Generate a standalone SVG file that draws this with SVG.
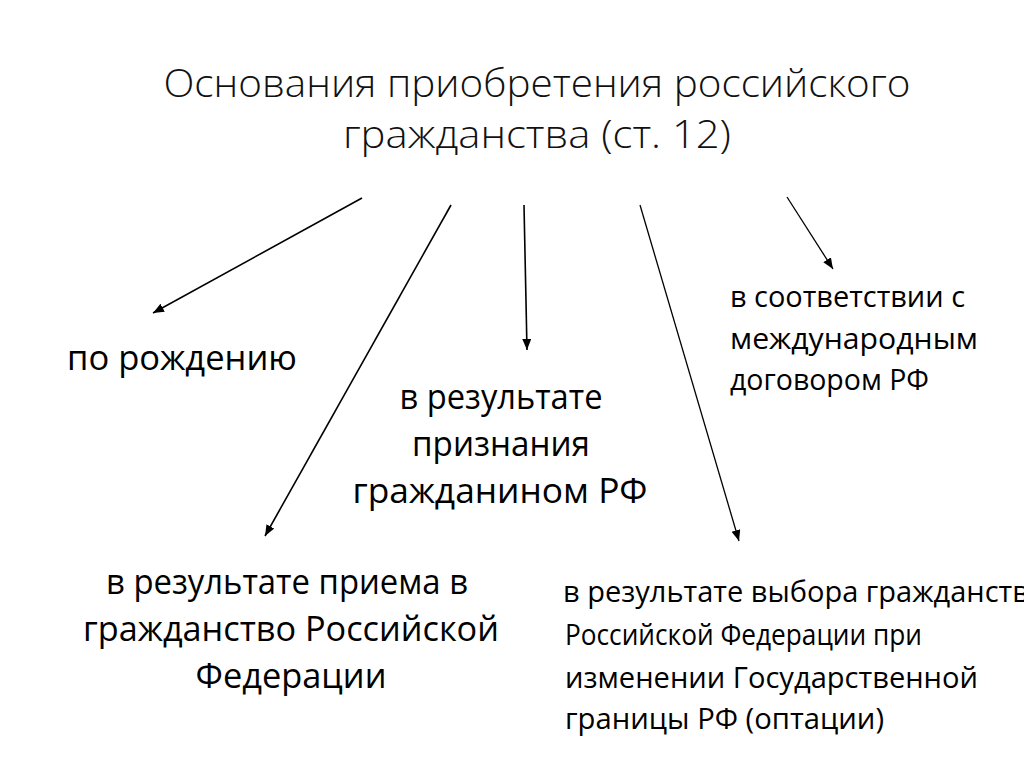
<svg xmlns="http://www.w3.org/2000/svg" width="1024" height="767" viewBox="0 0 1024 767">
<style>
.t{font-family:"Open Sans","Noto Sans","DejaVu Sans",sans-serif;fill:#000}
.title{font-size:38px;font-weight:300;fill:#111}
.big{font-size:35px}
.sm{font-size:30px}
.c{stroke:#000;fill:none}
</style>
<defs>
<marker id="ah" markerUnits="userSpaceOnUse" markerWidth="12" markerHeight="10" refX="11" refY="4.5" orient="auto">
<path d="M0,0 L11,4.5 L0,9 z" fill="#000"/>
</marker>
</defs>
<rect width="1024" height="767" fill="#fff"/>
<g id="title">
<text class="t title" x="537" y="97" text-anchor="middle" textLength="747" lengthAdjust="spacingAndGlyphs">Основания приобретения российского</text>
<text class="t title" x="537" y="148" text-anchor="middle" textLength="388" lengthAdjust="spacingAndGlyphs">гражданства (ст. 12)</text>
</g>
<g id="connectors">
<line class="c" stroke-width="1.6" x1="362" y1="198" x2="153" y2="313" marker-end="url(#ah)"/>
<line class="c" stroke-width="1.6" x1="451" y1="205" x2="265" y2="536" marker-end="url(#ah)"/>
<line class="c" stroke-width="1.6" x1="524" y1="205" x2="527" y2="350" marker-end="url(#ah)"/>
<line class="c" stroke-width="1.3" x1="640" y1="205" x2="739" y2="541" marker-end="url(#ah)"/>
<line class="c" stroke-width="1.3" x1="787" y1="197" x2="833" y2="269" marker-end="url(#ah)"/>
</g>
<g id="n-birth">
<text class="t big" x="67" y="370" textLength="230" lengthAdjust="spacingAndGlyphs">по рождению</text>
</g>
<g id="n-recognition">
<text class="t big" x="501" y="409" text-anchor="middle" textLength="203" lengthAdjust="spacingAndGlyphs">в результате</text>
<text class="t big" x="501" y="456" text-anchor="middle" textLength="178" lengthAdjust="spacingAndGlyphs">признания</text>
<text class="t big" x="500" y="503" text-anchor="middle" textLength="295" lengthAdjust="spacingAndGlyphs">гражданином РФ</text>
</g>
<g id="n-treaty">
<text class="t sm" x="730" y="307" textLength="235" lengthAdjust="spacingAndGlyphs">в соответствии с</text>
<text class="t sm" x="730" y="349" textLength="248" lengthAdjust="spacingAndGlyphs">международным</text>
<text class="t sm" x="730" y="390" textLength="199" lengthAdjust="spacingAndGlyphs">договором РФ</text>
</g>
<g id="n-admission">
<text class="t big" x="287" y="594" text-anchor="middle" textLength="362" lengthAdjust="spacingAndGlyphs">в результате приема в</text>
<text class="t big" x="291" y="641" text-anchor="middle" textLength="416" lengthAdjust="spacingAndGlyphs">гражданство Российской</text>
<text class="t big" x="291" y="688" text-anchor="middle" textLength="191" lengthAdjust="spacingAndGlyphs">Федерации</text>
</g>
<g id="n-option">
<text class="t sm" x="563" y="602" textLength="482" lengthAdjust="spacingAndGlyphs">в результате выбора гражданства</text>
<text class="t sm" x="565" y="645" textLength="357" lengthAdjust="spacingAndGlyphs">Российской Федерации при</text>
<text class="t sm" x="565" y="688" textLength="413" lengthAdjust="spacingAndGlyphs">изменении Государственной</text>
<text class="t sm" x="565" y="729" textLength="319" lengthAdjust="spacingAndGlyphs">границы РФ (оптации)</text>
</g>
</svg>
